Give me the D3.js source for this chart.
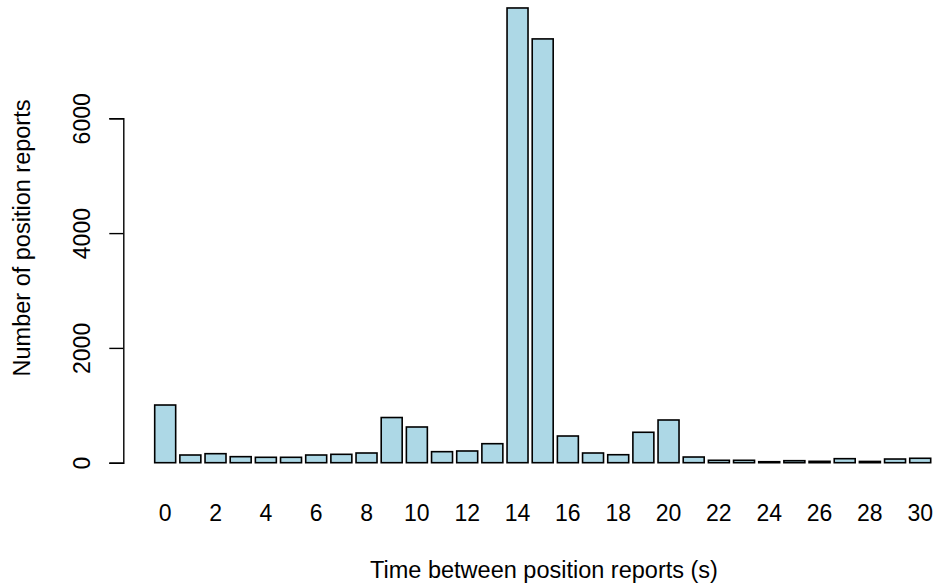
<!DOCTYPE html>
<html>
<head>
<meta charset="utf-8">
<script src="https://cdn.jsdelivr.net/npm/d3@7"></script>
<style>
  html, body { margin: 0; padding: 0; background: #ffffff; }
  svg { display: block; }
  text { font-family: "Liberation Sans", Arial, Helvetica, sans-serif; fill: #000; }
</style>
</head>
<body>
<svg id="chart" width="936" height="587"></svg>
<script>
// Seconds between consecutive position reports
const seconds = d3.range(0, 31);
// Number of position reports observed for each interval
const reportCounts = [
  1005, 134, 157, 105, 94, 94, 134, 146, 169, 787,
  622, 192, 204, 331, 7922, 7383, 465, 169, 139, 530,
  744, 99, 42, 42, 17, 35, 24, 70, 22, 64,
  77
];
// Labels shown under the bars (every other interval)
const xTickLabels = [0, 2, 4, 6, 8, 10, 12, 14, 16, 18, 20, 22, 24, 26, 28, 30];
const yTickValues = [0, 2000, 4000, 6000];

const svg = d3.select("#chart");

const x = d3.scaleBand()
  .domain(seconds)
  .range([154.7, 930.7])
  .paddingInner(1 / 6)
  .paddingOuter(0);

const y = d3.scaleLinear()
  .domain([0, 6000])
  .range([462.7, 118.3]);

// Bars
svg.append("g")
  .selectAll("rect")
  .data(seconds)
  .join("rect")
  .attr("x", d => x(d))
  .attr("width", x.bandwidth())
  .attr("y", d => y(reportCounts[d]))
  .attr("height", d => y(0) - y(reportCounts[d]))
  .attr("fill", "#ADD8E6")
  .attr("stroke", "#000")
  .attr("stroke-width", 1.6);

// Y axis: line from first to last tick, rotated labels
const yAxis = d3.axisLeft(y)
  .tickValues(yTickValues)
  .tickSize(14)
  .tickSizeOuter(14)
  .tickPadding(0)
  .tickFormat(d3.format("d"));

const yg = svg.append("g")
  .attr("transform", "translate(123.3,0)")
  .call(yAxis);
yg.select(".domain").attr("stroke", "#000").attr("stroke-width", 1.4);
yg.selectAll(".tick line").attr("stroke", "#000").attr("stroke-width", 1.4);
yg.selectAll(".tick text")
  .attr("x", null).attr("dy", null)
  .attr("transform", "translate(-33.8,0) rotate(-90)")
  .attr("text-anchor", "middle")
  .style("font-size", "23px")
  .style("font-family", "'Liberation Sans', Arial, sans-serif");

// X labels under the bars, no axis line
const xAxis = d3.axisBottom(x)
  .tickValues(xTickLabels)
  .tickSize(0)
  .tickSizeOuter(0)
  .tickPadding(0);

const xg = svg.append("g")
  .attr("transform", "translate(0,521)")
  .call(xAxis);
xg.select(".domain").remove();
xg.selectAll(".tick text")
  .attr("y", 0).attr("dy", null)
  .style("font-size", "23px")
  .style("font-family", "'Liberation Sans', Arial, sans-serif");

// Axis titles
svg.append("text")
  .attr("x", 544)
  .attr("y", 578)
  .attr("text-anchor", "middle")
  .style("font-size", "23.5px")
  .text("Time between position reports (s)");

svg.append("text")
  .attr("transform", "translate(30,238) rotate(-90)")
  .attr("text-anchor", "middle")
  .style("font-size", "23.5px")
  .text("Number of position reports");
</script>
</body>
</html>
